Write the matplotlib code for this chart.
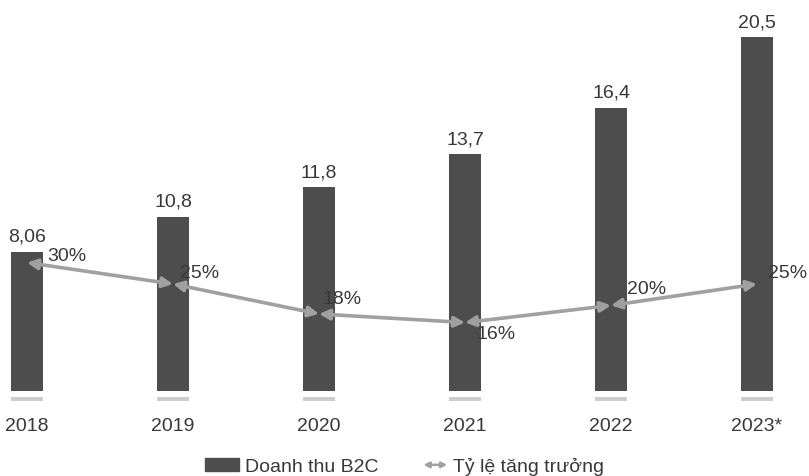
import numpy as np
import matplotlib
matplotlib.use("Agg")
import matplotlib.pyplot as plt
from matplotlib.patches import Patch, FancyArrowPatch
from matplotlib.legend_handler import HandlerBase

plt.rcParams['font.family'] = ['Liberation Sans', 'DejaVu Sans']

years = ['2018', '2019', '2020', '2021', '2022', '2023*']
# bar heights as drawn in the picture (2019 bar is drawn a bit short of its label)
revenue = [8.06, 10.1, 11.8, 13.7, 16.4, 20.5]
revenue_labels = ['8,06', '10,8', '11,8', '13,7', '16,4', '20,5']
growth = [30, 25, 18, 16, 20, 25]
growth_labels = ['30%', '25%', '18%', '16%', '20%', '25%']

BAR = '#4d4d4d'
LINE = '#a0a0a0'
TXT = '#383838'

# pixel offsets of the % labels from each point
pct_off = [(20, 7), (7, 11), (4, 15), (12, -11), (16, 17), (11, 11)]


class ArrowHandler(HandlerBase):
    def create_artists(self, legend, orig, xd, yd, w, h, fs, trans):
        p = FancyArrowPatch((xd + 0.3 * w, yd + h / 2), (xd + w, yd + h / 2),
                            arrowstyle='<|-|>', mutation_scale=8, color=LINE,
                            lw=1.8, shrinkA=0, shrinkB=0, transform=trans)
        return [p]


fig = plt.figure(figsize=(8.09, 4.77), dpi=100)
ax = fig.add_axes([0, 85 / 477, 1, 392 / 477])
x = np.arange(len(years))
ax.set_xlim(-27 / 146, 782 / 146)
ax.set_ylim(0, 392 / 17.27)

ax.bar(x, revenue, width=0.22, color=BAR, zorder=2)
# light stubs under bars
ax.bar(x, 0.23, bottom=-0.58, width=0.22, color='#cccccc', clip_on=False)
for xi, v, lab in zip(x, revenue, revenue_labels):
    ax.annotate(lab, (xi, v), xytext=(0, 5), textcoords='offset points',
                ha='center', va='bottom', fontsize=14, color=TXT)

ax.set_xticks(x, years)
ax.tick_params(axis='x', length=0, pad=19, labelsize=14, labelcolor=TXT)
ax.set_yticks([])
for s in ax.spines.values():
    s.set_visible(False)

ax2 = ax.twinx()
ax2.set_ylim(0, 392 / 4.28)
ax2.set_yticks([])
for s in ax2.spines.values():
    s.set_visible(False)
for i in range(len(x) - 1):
    ax2.annotate('', xy=(x[i + 1], growth[i + 1]), xytext=(x[i], growth[i]),
                 arrowprops=dict(arrowstyle='<|-|>', color=LINE, lw=2.6,
                                 mutation_scale=15, shrinkA=0, shrinkB=0))
for xi, g, lab, off in zip(x, growth, growth_labels, pct_off):
    ax2.annotate(lab, (xi, g), xytext=off, textcoords='offset pixels',
                 ha='left', va='center', fontsize=14, color=TXT,
                 annotation_clip=False)

handles = [Patch(color=BAR), Patch(color=LINE)]
fig.legend(handles, ['Doanh thu B2C', 'Tỷ lệ tăng trưởng'],
           handler_map={handles[1]: ArrowHandler()},
           loc='center', bbox_to_anchor=(0.5, 10 / 477), ncol=2,
           frameon=False, fontsize=14, labelcolor=TXT,
           handlelength=1.75, handleheight=0.65, handletextpad=0.3,
           columnspacing=1.8)

fig.savefig('out.png', dpi=100, facecolor='white')
